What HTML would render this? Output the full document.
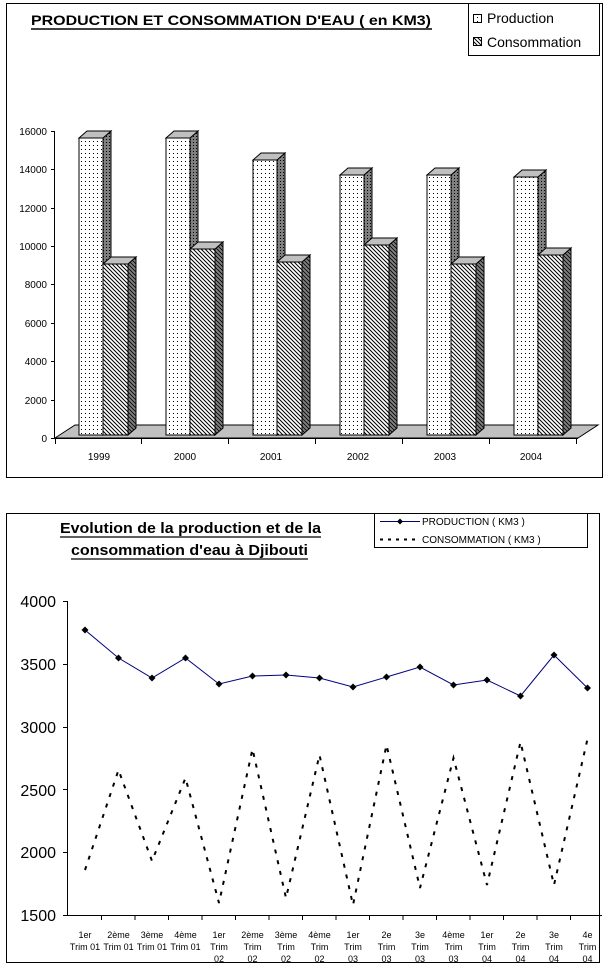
<!DOCTYPE html>
<html><head><meta charset="utf-8"><style>
body{margin:0;background:#fff;}
svg{display:block;font-family:"Liberation Sans",Arial,sans-serif;}
</style></head><body>
<svg width="606" height="968" viewBox="0 0 606 968">
<defs>
<pattern id="dots" width="4" height="4" patternUnits="userSpaceOnUse"><rect width="4" height="4" fill="#fff"/><rect x="1" y="1" width="1" height="1" fill="#000"/></pattern>
<pattern id="hatch" width="4" height="4" patternUnits="userSpaceOnUse"><rect width="4" height="4" fill="#fff"/><path d="M0,0 L4,4 M-1,3 L1,5 M3,-1 L5,1" stroke="#000" stroke-width="1"/></pattern>
<pattern id="dhatch" width="4" height="4" patternUnits="userSpaceOnUse"><rect width="4" height="4" fill="#808080"/><path d="M0,0 L4,4 M-1,3 L1,5 M3,-1 L5,1" stroke="#000" stroke-width="0.8"/></pattern>
<pattern id="ddots" width="3" height="3" patternUnits="userSpaceOnUse"><rect width="3" height="3" fill="#808080"/><rect x="1" y="1" width="1" height="1" fill="#000"/></pattern>
</defs>
<!-- Chart 1 -->
<rect x="6.5" y="3.5" width="596" height="474" fill="#fff" stroke="#000"/>
<text x="31" y="25" font-size="14" font-weight="bold" textLength="400" lengthAdjust="spacingAndGlyphs">PRODUCTION ET CONSOMMATION D'EAU ( en KM3)</text>
<line x1="31" y1="29" x2="432" y2="29" stroke="#000" stroke-width="1.5"/>
<rect x="468.5" y="3.5" width="131" height="52" fill="#fff" stroke="#000"/>
<rect x="473.5" y="14.5" width="8" height="8" fill="url(#dots)" stroke="#000"/>
<text x="487" y="23" font-size="14">Production</text>
<rect x="473.5" y="37.5" width="8" height="8" fill="url(#hatch)" stroke="#000"/>
<text x="487" y="47" font-size="14">Consommation</text>
<g font-size="10" text-anchor="end">
<text x="47" y="442">0</text><text x="47" y="404">2000</text><text x="47" y="365">4000</text><text x="47" y="327">6000</text><text x="47" y="288">8000</text><text x="47" y="250">10000</text><text x="47" y="212">12000</text><text x="47" y="173">14000</text><text x="47" y="135">16000</text>
</g>
<line x1="54.5" y1="131" x2="54.5" y2="438" stroke="#000"/>
<g stroke="#000"><line x1="51" y1="131.5" x2="55" y2="131.5"/><line x1="51" y1="169.5" x2="55" y2="169.5"/><line x1="51" y1="208.5" x2="55" y2="208.5"/><line x1="51" y1="246.5" x2="55" y2="246.5"/><line x1="51" y1="284.5" x2="55" y2="284.5"/><line x1="51" y1="323.5" x2="55" y2="323.5"/><line x1="51" y1="361.5" x2="55" y2="361.5"/><line x1="51" y1="400.5" x2="55" y2="400.5"/><line x1="51" y1="438.5" x2="55" y2="438.5"/></g>
<polygon points="55,438 75,425 598,425 578,438" fill="#c0c0c0" stroke="#000"/>
<line x1="55" y1="438.5" x2="578" y2="438.5" stroke="#000"/>
<g stroke="#000"><line x1="55.5" y1="438" x2="55.5" y2="444"/><line x1="141.5" y1="438" x2="141.5" y2="444"/><line x1="228.5" y1="438" x2="228.5" y2="444"/><line x1="315.5" y1="438" x2="315.5" y2="444"/><line x1="402.5" y1="438" x2="402.5" y2="444"/><line x1="489.5" y1="438" x2="489.5" y2="444"/><line x1="576.5" y1="438" x2="576.5" y2="444"/></g>
<g font-size="10" text-anchor="middle"><text x="99" y="460">1999</text><text x="185" y="460">2000</text><text x="271" y="460">2001</text><text x="358" y="460">2002</text><text x="445" y="460">2003</text><text x="531" y="460">2004</text></g>
<g stroke="#000">
<polygon points="103,138 111,131 111,428 103,435" fill="url(#ddots)"/><polygon points="79,138 87,131 111,131 103,138" fill="#c0c0c0"/><rect x="79" y="138" width="24" height="297" fill="url(#dots)"/>
<polygon points="128,264 136,257 136,428 128,435" fill="url(#dhatch)"/><polygon points="103,264 111,257 136,257 128,264" fill="#c0c0c0"/><rect x="103" y="264" width="25" height="171" fill="url(#hatch)"/>
<polygon points="190,138 198,131 198,428 190,435" fill="url(#ddots)"/><polygon points="166,138 174,131 198,131 190,138" fill="#c0c0c0"/><rect x="166" y="138" width="24" height="297" fill="url(#dots)"/>
<polygon points="215,249 223,242 223,428 215,435" fill="url(#dhatch)"/><polygon points="190,249 198,242 223,242 215,249" fill="#c0c0c0"/><rect x="190" y="249" width="25" height="186" fill="url(#hatch)"/>
<polygon points="277,160 285,153 285,428 277,435" fill="url(#ddots)"/><polygon points="253,160 261,153 285,153 277,160" fill="#c0c0c0"/><rect x="253" y="160" width="24" height="275" fill="url(#dots)"/>
<polygon points="302,262 310,255 310,428 302,435" fill="url(#dhatch)"/><polygon points="277,262 285,255 310,255 302,262" fill="#c0c0c0"/><rect x="277" y="262" width="25" height="173" fill="url(#hatch)"/>
<polygon points="364,175 372,168 372,428 364,435" fill="url(#ddots)"/><polygon points="340,175 348,168 372,168 364,175" fill="#c0c0c0"/><rect x="340" y="175" width="24" height="260" fill="url(#dots)"/>
<polygon points="389,245 397,238 397,428 389,435" fill="url(#dhatch)"/><polygon points="364,245 372,238 397,238 389,245" fill="#c0c0c0"/><rect x="364" y="245" width="25" height="190" fill="url(#hatch)"/>
<polygon points="451,175 459,168 459,428 451,435" fill="url(#ddots)"/><polygon points="427,175 435,168 459,168 451,175" fill="#c0c0c0"/><rect x="427" y="175" width="24" height="260" fill="url(#dots)"/>
<polygon points="476,264 484,257 484,428 476,435" fill="url(#dhatch)"/><polygon points="451,264 459,257 484,257 476,264" fill="#c0c0c0"/><rect x="451" y="264" width="25" height="171" fill="url(#hatch)"/>
<polygon points="538,177 546,170 546,428 538,435" fill="url(#ddots)"/><polygon points="514,177 522,170 546,170 538,177" fill="#c0c0c0"/><rect x="514" y="177" width="24" height="258" fill="url(#dots)"/>
<polygon points="563,255 571,248 571,428 563,435" fill="url(#dhatch)"/><polygon points="538,255 546,248 571,248 563,255" fill="#c0c0c0"/><rect x="538" y="255" width="25" height="180" fill="url(#hatch)"/>
</g>

<!-- Chart 2 -->
<rect x="6.5" y="513.5" width="593" height="449" fill="#fff" stroke="#000"/>
<g font-size="15" font-weight="bold">
<text x="60" y="533" textLength="261" lengthAdjust="spacingAndGlyphs">Evolution de la production et de la</text>
<text x="71" y="555" textLength="237" lengthAdjust="spacingAndGlyphs">consommation d'eau à Djibouti</text>
</g>
<line x1="60" y1="537" x2="321" y2="537" stroke="#000" stroke-width="1.3"/>
<line x1="71" y1="559" x2="308" y2="559" stroke="#000" stroke-width="1.3"/>
<rect x="374.5" y="513.5" width="213" height="34" fill="#fff" stroke="#000"/>
<line x1="380" y1="521.5" x2="420" y2="521.5" stroke="#000080"/>
<path d="M400,518.5 L403,521.5 L400,524.5 L397,521.5Z" fill="#000"/>
<text x="422" y="525" font-size="10">PRODUCTION ( KM3 )</text>
<line x1="380" y1="539.5" x2="420" y2="539.5" stroke="#000" stroke-width="2" stroke-dasharray="3,5"/>
<text x="422" y="543" font-size="10">CONSOMMATION ( KM3 )</text>
<g font-size="16" text-anchor="end">
<text x="56" y="607">4000</text><text x="56" y="670">3500</text><text x="56" y="733">3000</text><text x="56" y="796">2500</text><text x="56" y="858">2000</text><text x="56" y="921">1500</text>
</g>
<line x1="67.5" y1="601" x2="67.5" y2="915" stroke="#000"/>
<line x1="67" y1="915.5" x2="602" y2="915.5" stroke="#000"/>
<g stroke="#000"><line x1="63" y1="601.5" x2="68" y2="601.5"/><line x1="63" y1="664.5" x2="68" y2="664.5"/><line x1="63" y1="727.5" x2="68" y2="727.5"/><line x1="63" y1="789.5" x2="68" y2="789.5"/><line x1="63" y1="852.5" x2="68" y2="852.5"/><line x1="63" y1="915.5" x2="68" y2="915.5"/></g>
<g stroke="#000">
<line x1="101.5" y1="915" x2="101.5" y2="920"/><line x1="135" y1="915" x2="135" y2="920"/><line x1="168.5" y1="915" x2="168.5" y2="920"/><line x1="202" y1="915" x2="202" y2="920"/><line x1="235.5" y1="915" x2="235.5" y2="920"/><line x1="269" y1="915" x2="269" y2="920"/><line x1="302.5" y1="915" x2="302.5" y2="920"/><line x1="336" y1="915" x2="336" y2="920"/><line x1="369.5" y1="915" x2="369.5" y2="920"/><line x1="403" y1="915" x2="403" y2="920"/><line x1="436.5" y1="915" x2="436.5" y2="920"/><line x1="470" y1="915" x2="470" y2="920"/><line x1="503.5" y1="915" x2="503.5" y2="920"/><line x1="537" y1="915" x2="537" y2="920"/><line x1="570.5" y1="915" x2="570.5" y2="920"/>
</g>
<polyline fill="none" stroke="#000080" stroke-width="1" points="85,630 118.5,658 152,678 185.5,658 219,684 252.5,676 286,675 319.5,678 353,687 386.5,677 420,667 453.5,685 487,680 520.5,696 554,655 587.5,688"/>
<g fill="#000">
<path d="M85,626.5L88.5,630L85,633.5L81.5,630Z"/><path d="M118.5,654.5L122,658L118.5,661.5L115,658Z"/><path d="M152,674.5L155.5,678L152,681.5L148.5,678Z"/><path d="M185.5,654.5L189,658L185.5,661.5L182,658Z"/><path d="M219,680.5L222.5,684L219,687.5L215.5,684Z"/><path d="M252.5,672.5L256,676L252.5,679.5L249,676Z"/><path d="M286,671.5L289.5,675L286,678.5L282.5,675Z"/><path d="M319.5,674.5L323,678L319.5,681.5L316,678Z"/><path d="M353,683.5L356.5,687L353,690.5L349.5,687Z"/><path d="M386.5,673.5L390,677L386.5,680.5L383,677Z"/><path d="M420,663.5L423.5,667L420,670.5L416.5,667Z"/><path d="M453.5,681.5L457,685L453.5,688.5L450,685Z"/><path d="M487,676.5L490.5,680L487,683.5L483.5,680Z"/><path d="M520.5,692.5L524,696L520.5,699.5L517,696Z"/><path d="M554,651.5L557.5,655L554,658.5L550.5,655Z"/><path d="M587.5,684.5L591,688L587.5,691.5L584,688Z"/>
</g>
<polyline fill="none" stroke="#000" stroke-width="2" stroke-dasharray="4,7" points="85,870 118.5,770 152,861 185.5,778 219,903 252.5,749 286,898 319.5,755 353,905 386.5,745 420,888 453.5,758 487,885 520.5,742 554,885 587.5,739"/>
<g font-size="9" text-anchor="middle">
<text x="85" y="938">1er</text><text x="85" y="950">Trim 01</text>
<text x="118.5" y="938">2ème</text><text x="118.5" y="950">Trim 01</text>
<text x="152" y="938">3ème</text><text x="152" y="950">Trim 01</text>
<text x="185.5" y="938">4ème</text><text x="185.5" y="950">Trim 01</text>
<text x="219" y="938">1er</text><text x="219" y="950">Trim</text><text x="219" y="962">02</text>
<text x="252.5" y="938">2ème</text><text x="252.5" y="950">Trim</text><text x="252.5" y="962">02</text>
<text x="286" y="938">3ème</text><text x="286" y="950">Trim</text><text x="286" y="962">02</text>
<text x="319.5" y="938">4ème</text><text x="319.5" y="950">Trim</text><text x="319.5" y="962">02</text>
<text x="353" y="938">1er</text><text x="353" y="950">Trim</text><text x="353" y="962">03</text>
<text x="386.5" y="938">2e</text><text x="386.5" y="950">Trim</text><text x="386.5" y="962">03</text>
<text x="420" y="938">3e</text><text x="420" y="950">Trim</text><text x="420" y="962">03</text>
<text x="453.5" y="938">4ème</text><text x="453.5" y="950">Trim</text><text x="453.5" y="962">03</text>
<text x="487" y="938">1er</text><text x="487" y="950">Trim</text><text x="487" y="962">04</text>
<text x="520.5" y="938">2e</text><text x="520.5" y="950">Trim</text><text x="520.5" y="962">04</text>
<text x="554" y="938">3e</text><text x="554" y="950">Trim</text><text x="554" y="962">04</text>
<text x="587.5" y="938">4e</text><text x="587.5" y="950">Trim</text><text x="587.5" y="962">04</text>
</g>
</svg>
</body></html>
